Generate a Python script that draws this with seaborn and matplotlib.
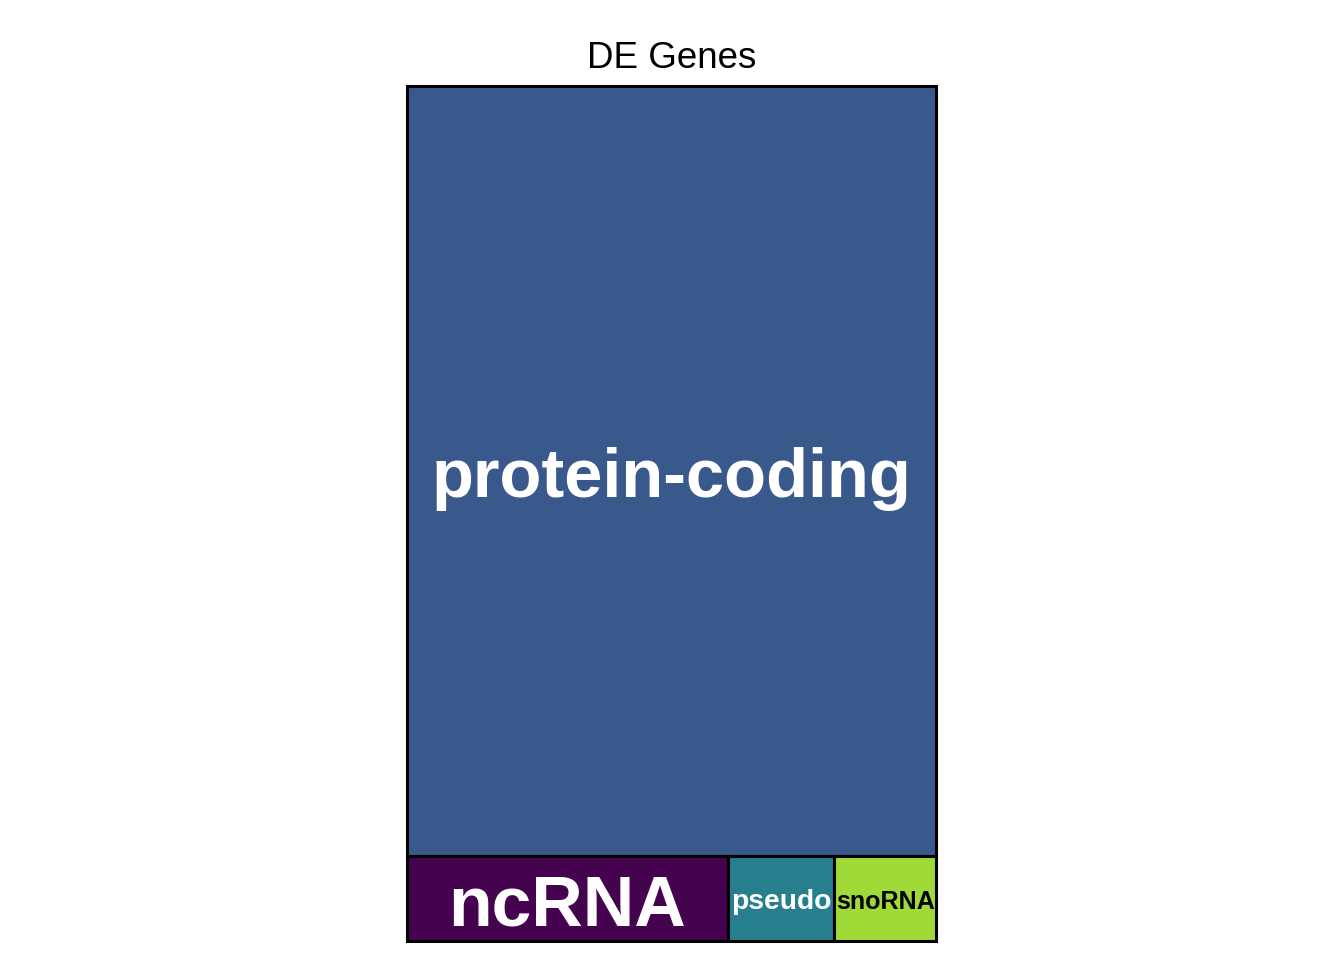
import seaborn as sns
import matplotlib.pyplot as plt
from matplotlib.patches import Rectangle

# gene counts per biotype
biotypes = ["protein-coding", "ncRNA", "pseudo", "snoRNA"]
counts = [901, 60, 20, 19]
tile_colors = ["#39598C", "#45024F", "#277F8E", "#A0DA39"]
label_colors = ["white", "white", "white", "black"]
label_sizes = [49.4, 51.4, 20.3, 18.1]


def worst(row, side):
    s = sum(row)
    return max(max(side ** 2 * r / s ** 2, s ** 2 / (side ** 2 * r)) for r in row)


def squarify(areas, x, y, w, h):
    """Squarified treemap layout, rows laid from the top-left corner."""
    rects = []
    areas = list(areas)
    while areas:
        side = min(w, h)
        row = [areas.pop(0)]
        while areas and worst(row + [areas[0]], side) <= worst(row, side):
            row.append(areas.pop(0))
        s = sum(row)
        if w >= h:
            cw = s / h
            yy = y
            for a in row:
                rects.append((x, yy, cw, a / cw))
                yy += a / cw
            x += cw
            w -= cw
        else:
            rh = s / w
            xx = x
            for a in row:
                rects.append((xx, y, a / rh, rh))
                xx += a / rh
            y += rh
            h -= rh
    return rects


sns.set_style("white")
plt.rcParams['font.family'] = ['Liberation Sans', 'DejaVu Sans']

fig = plt.figure(figsize=(13.44, 9.6), dpi=100)
ax = fig.add_axes([407 / 1344, 19 / 960, 529 / 1344, 855 / 960])

W, H = 529.0, 855.0
total = sum(counts)
areas = [c / total * W * H for c in counts]
rects = squarify(areas, 0, 0, W, H)

for (x, y, w, h), name, col, tcol, fs in zip(rects, biotypes, tile_colors, label_colors, label_sizes):
    ax.add_patch(Rectangle((x, y), w, h, facecolor=col, edgecolor="black",
                           linewidth=2.2, clip_on=False))
    # text sits slightly below the geometric centre, as in the original
    ax.annotate(name, (x + w / 2, y + h / 2), xytext=(0, -0.12 * fs),
                textcoords="offset points", color=tcol, fontsize=fs,
                fontweight="bold", ha="center", va="center")

ax.set_xlim(0, W)
ax.set_ylim(H, 0)
ax.axis("off")
ax.set_title("DE Genes", fontsize=26.5, pad=13, color="black")

fig.savefig("out.png", dpi=100)
plt.close()
